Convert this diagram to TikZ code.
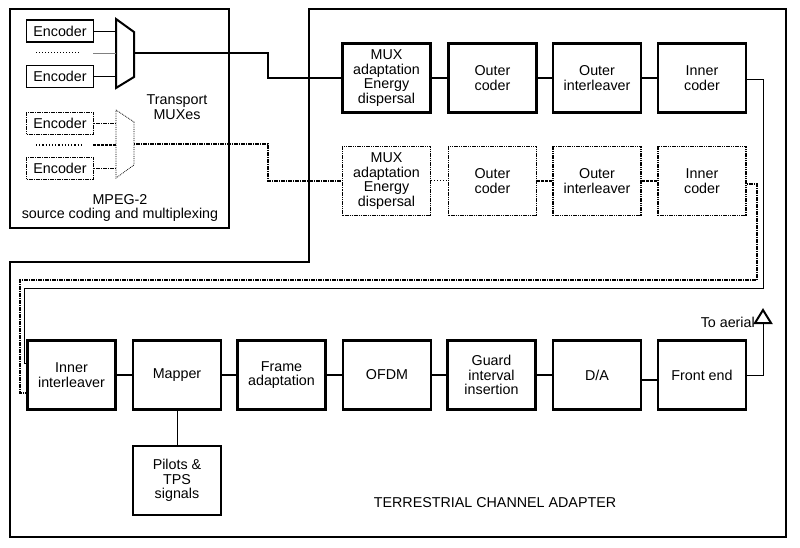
\documentclass[tikz,border=0pt]{standalone}
\usepackage{fontspec}
\setmainfont{Liberation Sans}
\usetikzlibrary{calc}
\begin{document}
\begin{tikzpicture}[x=1pt,y=-1pt,
  font=\fontsize{14.3}{14.5}\selectfont,
  blk/.style={draw,line width=2.5pt,minimum width=88pt,minimum height=69pt,align=center,inner sep=1pt},
  dblk/.style={draw,line width=1.7pt,dash pattern=on 1pt off 1pt on 4pt off 1pt on 1pt off 1pt,minimum width=88pt,minimum height=69pt,align=center,inner sep=1pt},
  enc/.style={draw,line width=1.8pt,minimum width=67pt,minimum height=22pt,inner sep=1pt},
  denc/.style={draw,line width=1.6pt,dash pattern=on 1pt off 1pt on 4pt off 1pt,minimum width=67pt,minimum height=22pt,inner sep=1pt},
  thick conn/.style={line width=2.4pt},
  thin conn/.style={line width=0.9pt},
  dconn/.style={line width=1.1pt,dash pattern=on 1pt off 1pt on 4pt off 1pt},
  frame/.style={line width=2pt}]
\useasboundingbox (0,0) rectangle (800,548);
% frames
\draw[frame] (10,9) rectangle (229,228);
\draw[frame] (309,9) -- (786,9) -- (786,537) -- (10,537) -- (10,262) -- (309,262) -- cycle;
% encoders
\node[enc] (e1) at (60,31) {Encoder};
\node[enc] (e2) at (60,76.5) {Encoder};
\node[denc] (e3) at (60,123.5) {Encoder};
\node[denc] (e4) at (60,168.5) {Encoder};
% MUX trapezoids
\coordinate (m1l) at (116,53);
\coordinate (m1o) at (134,53);
\coordinate (m2l) at (116,144);
\coordinate (m2o) at (134,144);
\draw[line width=2pt] (116,19) -- (134,32) -- (134,77) -- (116,88) -- cycle;
\draw[line width=0.8pt,densely dotted] (116,110) -- (134,122) -- (134,165) -- (116,178) -- cycle;
\draw[thin conn] (e1.east) -- (e1.east -| m1l);
\draw[thin conn] (e2.east) -- (e2.east -| m1l);
\draw[dconn] (e3.east) -- (e3.east -| m2l);
\draw[dconn] (e4.east) -- (e4.east -| m2l);
\coordinate (d1a) at (36,53); \coordinate (d1b) at (80,53);
\coordinate (g1a) at (93,53);
\draw[line width=1pt,dotted] (d1a) -- (d1b);
\draw[line width=0.6pt,gray] (g1a) -- (m1l);
\coordinate (d2a) at (36,145); \coordinate (d2b) at (83,145);
\coordinate (g2a) at (93,145);
\draw[line width=1.2pt,dotted] (d2a) -- (d2b);
\draw[line width=2pt,dash pattern=on 3pt off 1pt] (g2a) -- (m2l |- g2a);
\node[align=center] (tmux) at (177,107) {Transport\\MUXes};
\node[align=center] (mpeg) at (120,208) {MPEG-2\\source coding and multiplexing};
% top row
\node[blk] (ma) at (386.5,78) {MUX\\adaptation\\Energy\\dispersal};
\node[blk] (oca) at (492.5,78) {Outer\\coder};
\node[blk] (oia) at (597,78) {Outer\\interleaver};
\node[blk] (ica) at (702,78) {Inner\\coder};
% second row
\node[dblk] (mb) at (386.5,181) {MUX\\adaptation\\Energy\\dispersal};
\node[dblk] (ocb) at (492.5,181) {Outer\\coder};
\node[dblk] (oib) at (597,181) {Outer\\interleaver};
\node[dblk] (icb) at (702,181) {Inner\\coder};
% bottom row
\node[blk] (iil) at (71.5,375) {Inner\\interleaver};
\node[blk] (map) at (177,375) {Mapper};
\node[blk] (fra) at (281.5,375) {Frame\\adaptation};
\node[blk] (ofdm) at (387,375) {OFDM};
\node[blk] (gi) at (491.5,375) {Guard\\interval\\insertion};
\node[blk] (da) at (597,375) {D/A};
\node[blk] (fe) at (702,375) {Front end};
\node[blk] (pil) at (177,480.5) {Pilots \&\\TPS\\signals};
% connectors top
\draw[line width=2pt] (m1o) -- (268,53) |- (ma.west);
\draw[thick conn] (ma) -- (oca);
\draw[thick conn] (oca) -- (oia);
\draw[thick conn] (oia) -- (ica);
\draw[dconn] (m2o) -- (268,144) |- (mb.west);
\draw[line width=1pt,dotted] (mb) -- (ocb);
\draw[line width=2.2pt,dash pattern=on 3pt off 1pt] (ocb) -- (oib);
\draw[line width=2.2pt,dash pattern=on 3pt off 1pt] (oib) -- (icb);
% return paths
\coordinate (iin) at ($(iil.west)+(0,-12)$);
\coordinate (iid) at ($(iil.west)+(0,18)$);
\draw[thin conn] ($(ica.east)+(0,1)$) -| (763,288) -| (24,363) -- (iin);
\draw[dconn] ($(icb.east)+(0,3)$) -| (757,280) -| (20,393) -- (iid);
% bottom connectors
\draw[thick conn] (iil) -- (map);
\draw[thick conn] (map) -- (fra);
\draw[thick conn] (fra) -- (ofdm);
\draw[thick conn] (ofdm) -- (gi);
\draw[thick conn] (gi) -- (da);
\draw[thick conn] ($(da.east)+(0,5)$) -- ($(fe.west)+(0,5)$);
\draw[thin conn] (map) -- (pil);
\coordinate (aer) at (763,323);
\draw[thin conn] (fe.east) -| (aer);
\draw[line width=2pt,line join=miter] (755,323) -- (771,323) -- (763,310) -- cycle;
\node[anchor=east,inner sep=0pt] (toa) at (755,322) {To aerial};
\node (tca) at (495,503) {TERRESTRIAL CHANNEL ADAPTER};
\end{tikzpicture}
\end{document}
